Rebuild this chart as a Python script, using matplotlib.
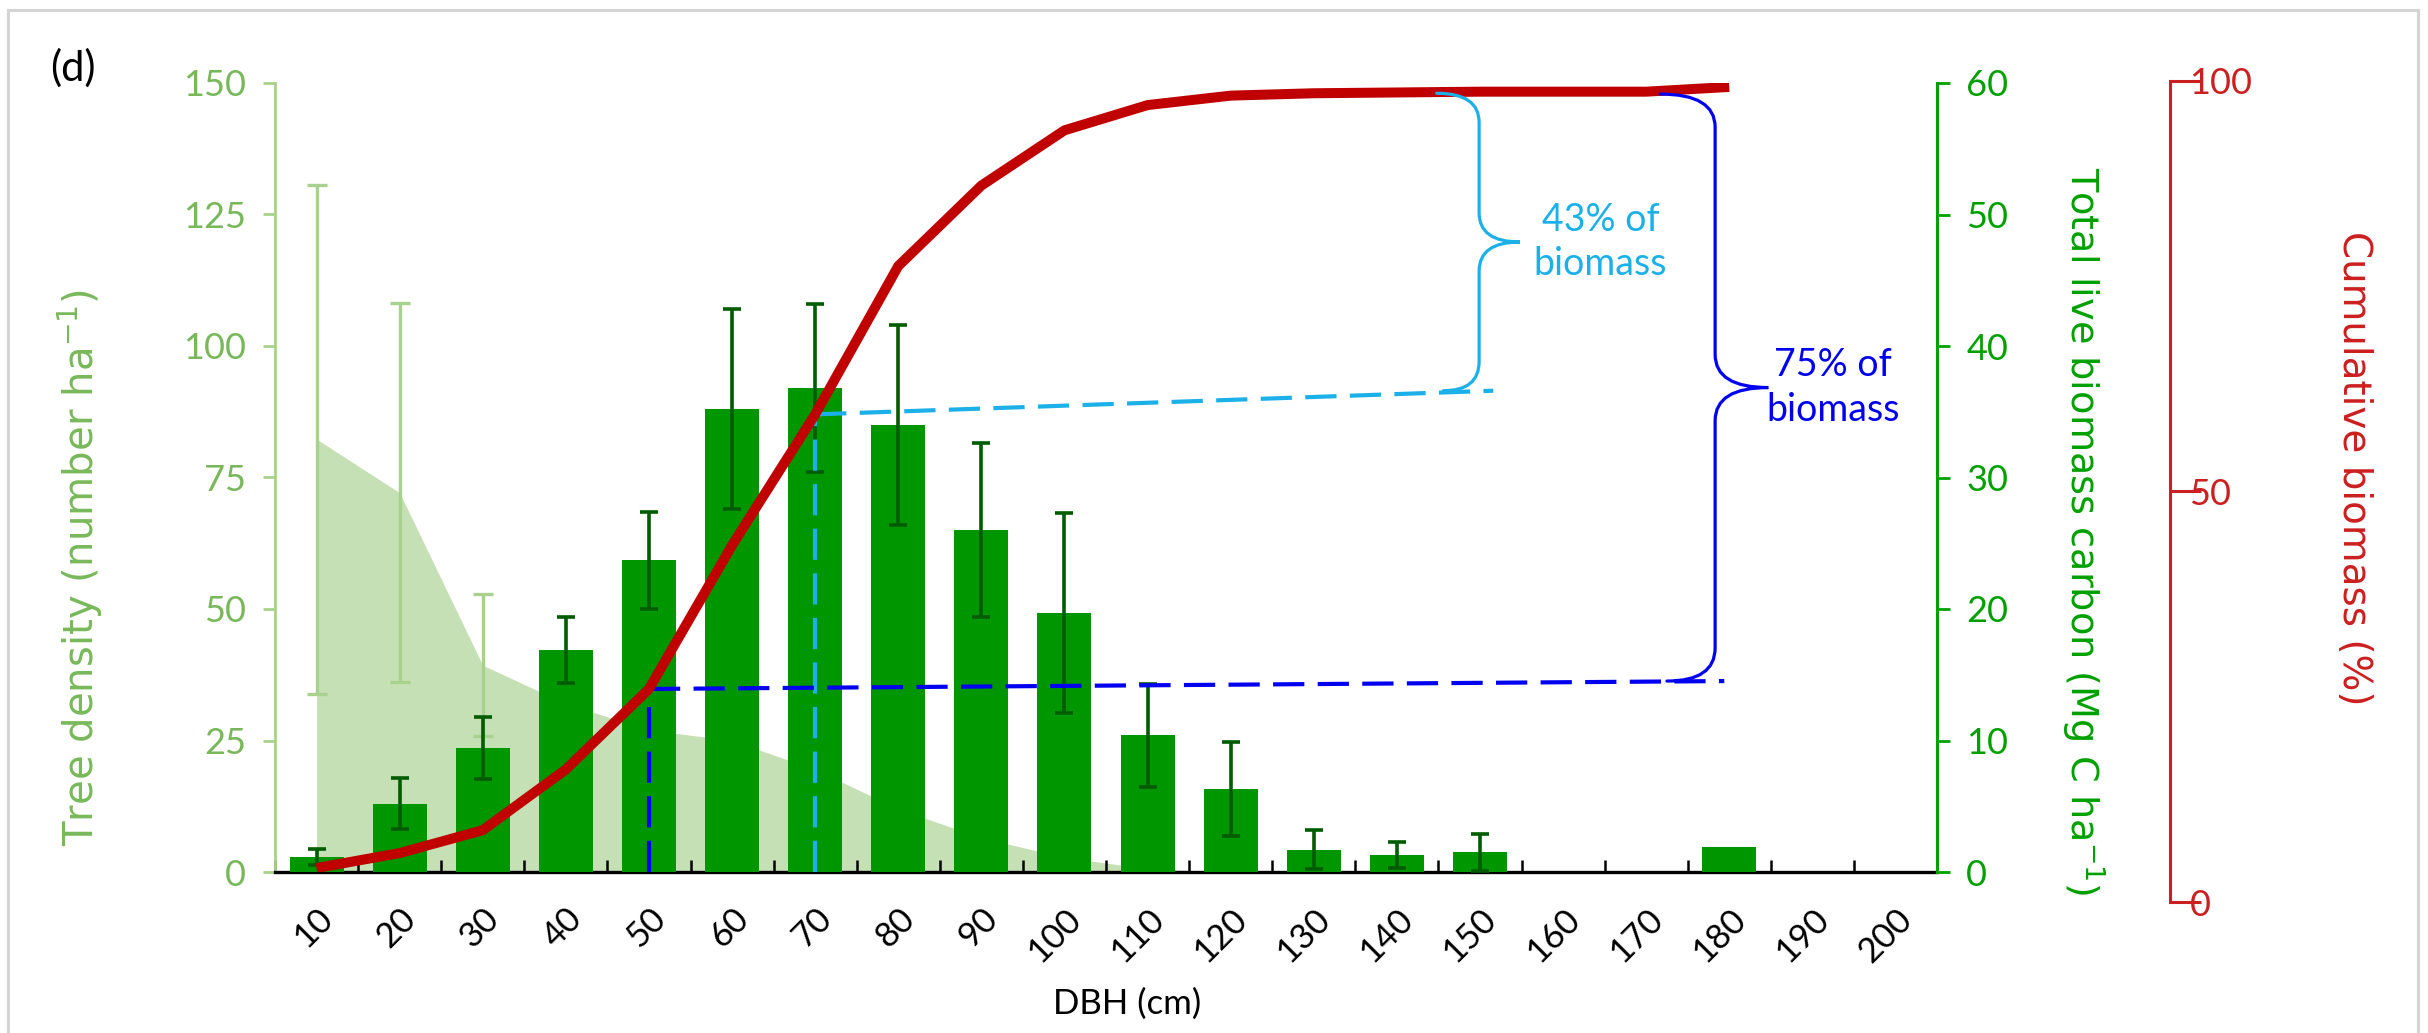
import numpy as np
import matplotlib
matplotlib.use("Agg")
import matplotlib.pyplot as plt
from matplotlib.path import Path
from matplotlib.patches import PathPatch
from matplotlib.lines import Line2D

# ---------------------------------------------------------------- data
dbh_classes = [10, 20, 30, 40, 50, 60, 70, 80, 90, 100,
               110, 120, 130, 140, 150, 160, 170, 180, 190, 200]

# tree density (number ha-1), shaded area on the left axis
tree_density = [82.3, 72.1, 39.3, 32.0, 27.0, 25.0, 19.5, 12.0, 6.5, 2.8,
                0.6, 0, 0, 0, 0, 0, 0, 0, 0, 0]
tree_density_err = [48.4, 36.0, 13.5, 0, 0, 0, 0, 0, 0, 0,
                    0, 0, 0, 0, 0, 0, 0, 0, 0, 0]

# total live biomass carbon (Mg C ha-1), bars on the right axis
carbon = [1.15, 5.2, 9.4, 16.9, 23.7, 35.2, 36.8, 34.0, 26.0, 19.7,
          10.4, 6.3, 1.7, 1.3, 1.5, 0, 0, 1.9, 0, 0]
carbon_err = [0.6, 1.95, 2.35, 2.5, 3.7, 7.6, 6.4, 7.6, 6.6, 7.6,
              3.9, 3.6, 1.5, 1.0, 1.4, 0, 0, 0, 0, 0]

# cumulative biomass (%), DBH 10 to 180
cum_biomass = [0.5, 2.4, 5.3, 13.0, 23.2, 41.4, 58.0, 76.8, 87.0, 94.0,
               97.2, 98.4, 98.7, 98.8, 98.9, 98.9, 98.9, 99.5]

share_labels = ["43% of\nbiomass", "75% of\nbiomass"]

# ---------------------------------------------------------------- colours
C_AREA = "#C5E0B4"
C_LIGHT = "#A9D18E"
C_LIGHT_TXT = "#78B85A"
C_BAR = "#009600"
C_BAR_ERR = "#005C00"
C_GREEN = "#00A000"
C_RED = "#C00000"
C_RED_AX = "#CC1F1F"
C_CYAN = "#1CB0E8"
C_BLUE = "#0000F0"

NUM_FONT = "Lato"
TITLE_FONT = "DejaVu Sans"

# ---------------------------------------------------------------- layout (pixels)
W, H = 2428, 1033
L, R, B, T = 275, 1937, 872, 83

fig = plt.figure(figsize=(W / 100, H / 100), dpi=100)
ax = fig.add_axes([L / W, 1 - B / H, (R - L) / W, (B - T) / H])
ax_c = ax.twinx()
ax_p = ax.twinx()

x = np.arange(len(dbh_classes))
dens = np.array(tree_density)
dens_err = np.array(tree_density_err)
carb = np.array(carbon)
carb_err = np.array(carbon_err)
cum = np.array(cum_biomass)

# tree density area + its error bars
ax.fill_between(x, dens, 0, color=C_AREA, lw=0, zorder=1)
m = dens_err > 0
ax.errorbar(x[m], dens[m], yerr=dens_err[m], fmt="none", ecolor=C_LIGHT,
            elinewidth=2.4, capsize=7.5, capthick=2.4, zorder=2)

# biomass carbon bars + error bars
ax_c.bar(x, carb, width=0.65, color=C_BAR, zorder=2)
m = carb_err > 0
ax_c.errorbar(x[m], carb[m], yerr=carb_err[m], fmt="none", ecolor=C_BAR_ERR,
              elinewidth=2.6, capsize=6.5, capthick=2.6, zorder=3)

# cumulative biomass curve
xc = x[:len(cum)]
ax_p.plot(xc, cum, color=C_RED, lw=7.2, solid_joinstyle="round",
          solid_capstyle="butt", zorder=5)

# reference lines at DBH 50 and 70
dash = dict(lw=3.0, dashes=(7.5, 3.2))
i50, i70 = dbh_classes.index(50), dbh_classes.index(70)
cy_end_x, cy_end_y = 14.16, 61.0
bl_end_x, bl_end_y = 16.94, 24.2
ax_p.plot([i70, i70], [0, cum[i70]], color=C_CYAN, zorder=4, **dash)
ax_p.plot([i70, cy_end_x], [cum[i70], cy_end_y], color=C_CYAN, zorder=4, **dash)
ax_p.plot([i50, i50], [0, cum[i50]], color=C_BLUE, zorder=4, **dash)
ax_p.plot([i50, bl_end_x], [cum[i50], bl_end_y], color=C_BLUE, zorder=4, **dash)


def brace(axis, x_top, x_bot, x_mid, x_tip, y_top, y_bot, ry, color):
    y_tip = (y_top + y_bot) / 2
    verts = [
        (x_top, y_top), (x_mid, y_top), (x_mid, y_top - ry),
        (x_mid, y_tip + ry),
        (x_mid, y_tip), (x_tip, y_tip),
        (x_mid, y_tip), (x_mid, y_tip - ry),
        (x_mid, y_bot + ry),
        (x_mid, y_bot), (x_bot, y_bot),
    ]
    codes = [Path.MOVETO, Path.CURVE3, Path.CURVE3,
             Path.LINETO,
             Path.CURVE3, Path.CURVE3,
             Path.CURVE3, Path.CURVE3,
             Path.LINETO,
             Path.CURVE3, Path.CURVE3]
    axis.add_patch(PathPatch(Path(verts, codes), fill=False, edgecolor=color,
                             lw=2.3, zorder=6, capstyle="round"))
    return y_tip


plateau = cum[-2]
yt1 = brace(ax_p, 13.48, 13.56, 13.99, 14.48, plateau - 0.2, cy_end_y, 3.7, C_CYAN)
yt2 = brace(ax_p, 16.17, 16.25, 16.83, 17.47, plateau - 0.3, bl_end_y, 4.2, C_BLUE)
ax_p.text(15.45, yt1, share_labels[0], color=C_CYAN, ha="center", va="center",
          fontsize=27, family=NUM_FONT, linespacing=1.3, zorder=7)
ax_p.text(18.25, yt2, share_labels[1], color=C_BLUE, ha="center", va="center",
          fontsize=27, family=NUM_FONT, linespacing=1.3, zorder=7)

# ---------------------------------------------------------------- axes styling
ax.set_xlim(-0.5, len(x) - 0.5)
ax.set_ylim(0, 150)
ax_c.set_ylim(0, 60)
ax_p.set_ylim(0, 100)

for s in ["top", "right"]:
    ax.spines[s].set_visible(False)
ax.spines["left"].set_color(C_LIGHT)
ax.spines["left"].set_linewidth(2.0)
ax.spines["bottom"].set_color("black")
ax.spines["bottom"].set_linewidth(2.4)
ax.spines["bottom"].set_zorder(8)

for s in ["top", "left", "bottom"]:
    ax_c.spines[s].set_visible(False)
ax_c.spines["right"].set_color(C_GREEN)
ax_c.spines["right"].set_linewidth(2.2)
for s in ax_p.spines.values():
    s.set_visible(False)
ax_p.set_yticks([])

ax.set_yticks(np.arange(0, 151, 25))
ax.tick_params(axis="y", direction="out", length=9, width=2, color=C_LIGHT,
               labelcolor=C_LIGHT_TXT, labelsize=26, pad=12)
ax_c.set_yticks(np.arange(0, 61, 10))
ax_c.tick_params(axis="y", direction="out", length=9, width=2, color=C_GREEN,
                 labelcolor=C_GREEN, labelsize=26, pad=12)
for lab in ax.get_yticklabels() + ax_c.get_yticklabels():
    lab.set_family(NUM_FONT)

ax.set_xticks(x)
ax.set_xticklabels([str(v) for v in dbh_classes], rotation=45, ha="right",
                   va="top", rotation_mode="anchor", family=NUM_FONT)
ax.tick_params(axis="x", which="major", length=0, labelsize=25, pad=22)
ax.set_xticks(np.arange(-0.5, len(x), 1), minor=True)
ax.tick_params(axis="x", which="minor", direction="in", length=9, width=1.8,
               color="black")

ax.set_xlabel("DBH (cm)", fontsize=25, family=NUM_FONT)
ax.xaxis.set_label_coords((1127 - L) / (R - L), (B - 988) / (B - T))

ax.set_ylabel("Tree density (number ha$^{-1}$)", color=C_LIGHT_TXT,
              fontsize=29, family=TITLE_FONT)
ax.yaxis.set_label_coords((105 - L) / (R - L), (B - 568) / (B - T))
ax_c.set_ylabel("Total live biomass carbon (Mg C ha$^{-1}$)", color=C_GREEN,
                fontsize=27.5, family=TITLE_FONT, rotation=270, va="center")
ax_c.yaxis.set_label_coords((2083 - L) / (R - L), (B - 531) / (B - T))

# cumulative biomass axis (stand-alone spine)
RX, RB, RT = 2170, 902, 81
ax_r = fig.add_axes([(RX - 2) / W, 1 - RB / H, 2 / W, (RB - RT) / H])
ax_r.patch.set_visible(False)
for s in ["top", "left", "bottom"]:
    ax_r.spines[s].set_visible(False)
ax_r.spines["right"].set_color(C_RED_AX)
ax_r.spines["right"].set_linewidth(2.2)
ax_r.set_xticks([])
ax_r.set_ylim(0, 100)
ax_r.set_yticks([0, 50, 100])
ax_r.yaxis.tick_right()
ax_r.tick_params(axis="y", direction="out", length=22, width=2.2, color=C_RED_AX,
                 labelcolor=C_RED_AX, labelsize=26, pad=-8)
for lab in ax_r.get_yticklabels():
    lab.set_family(NUM_FONT)
ax_r.yaxis.set_label_position("right")
ax_r.set_ylabel("Cumulative biomass (%)", color=C_RED_AX, fontsize=28,
                family=TITLE_FONT, rotation=270, va="center")
ax_r.yaxis.set_label_coords(1 + (2354 - RX) / 2, (RB - 468) / (RB - RT))

# panel letter
fig.text(73 / W, 1 - 68 / H, "(d)", fontsize=30, family=NUM_FONT,
         ha="center", va="center")

# thin grey frame around the panel
for xs, ys in [([8, 2418], [10, 10]), ([8, 8], [10, H]), ([2418, 2418], [10, H])]:
    fig.add_artist(Line2D([v / W for v in xs], [1 - v / H for v in ys],
                          color="#D4D4D4", lw=2.2))

fig.savefig("out.png", dpi=100)
